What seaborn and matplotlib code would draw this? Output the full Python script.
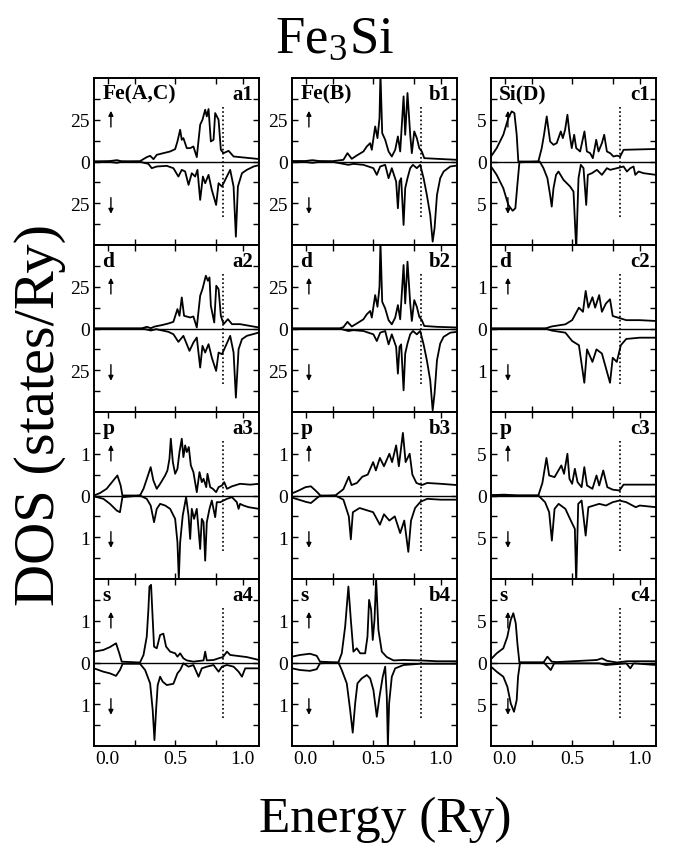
import matplotlib
matplotlib.use("Agg")
import matplotlib.pyplot as plt
import pandas as pd
import seaborn as sns

E_F = 0.855
x_ticks = [0.0, 0.2, 0.5, 0.8, 1.0]
x_labels = ["0.0", "", "0.5", "", "1.0"]

# ---------------- Fe(A,C) ----------------
a1_up = [(-0.10,0),(0.02,0.3),(0.07,0.8),(0.10,0.2),(0.15,0.1),(0.24,0.2),(0.29,2.6),(0.315,3.4),(0.34,1.4),
         (0.364,4),(0.413,5),(0.463,6),(0.50,7.4),(0.517,12),(0.537,19),(0.549,13),(0.561,14),(0.586,8),
         (0.611,8),(0.635,9),(0.66,2.6),(0.685,22),(0.702,25),(0.722,31),(0.734,27),(0.747,31.4),(0.764,12),
         (0.784,13),(0.796,29),(0.821,25),(0.838,7),(0.858,5),(0.895,6.4),(0.932,3),(1.006,2.4),(1.13,1.4)]
a1_dn = [(-0.10,0),(0.02,-0.3),(0.07,-0.8),(0.10,-0.2),(0.15,-0.1),(0.24,-0.2),(0.302,-1.4),(0.327,-4),
         (0.364,-3),(0.438,-2.6),(0.487,-4),(0.524,-9),(0.549,-5),(0.574,-6),(0.599,-14),(0.623,-7),(0.648,-9),
         (0.665,-5),(0.685,-23),(0.705,-9),(0.722,-13),(0.747,-8),(0.771,-17),(0.803,-26),(0.821,-13),
         (0.846,-15),(0.87,-11),(0.907,-5),(0.932,-15),(0.949,-45),(0.964,-15),(0.994,-7),(1.03,-5),
         (1.08,-3),(1.13,-2)]
a2_up = [(-0.10,0),(0.25,0),(0.29,1.0),(0.32,0.2),(0.35,1.2),(0.40,2),(0.45,3),(0.487,4),(0.517,11.6),
         (0.532,7.6),(0.549,18.6),(0.566,7.6),(0.611,6.6),(0.635,7.2),(0.66,0.6),(0.685,19.6),(0.702,23.6),
         (0.727,31.6),(0.742,28.6),(0.754,30.6),(0.764,13.6),(0.789,3.6),(0.804,25.6),(0.821,23.6),
         (0.838,7.6),(0.858,2.6),(0.89,5.6),(0.92,2.6),(0.98,2.6),(1.12,0.6)]
a2_dn = [(-0.10,0),(0.25,0),(0.29,-0.6),(0.32,-1.2),(0.36,-0.4),(0.45,-2),(0.487,-3.4),(0.524,-8),
         (0.561,-4.4),(0.606,-13.4),(0.635,-8.4),(0.66,-5.4),(0.685,-23.4),(0.702,-10.4),(0.722,-14.4),
         (0.747,-9.4),(0.771,-17.4),(0.803,-25.4),(0.821,-14.4),(0.846,-15.4),(0.863,-12.4),(0.907,-4.4),
         (0.932,-14.4),(0.949,-41.4),(0.969,-12.4),(0.994,-6.4),(1.03,-4.4),(1.12,-2.4)]
a3_up = [(-0.10,0),(-0.055,0.06),(-0.007,0.16),(0.043,0.36),(0.073,0.48),(0.097,0.24),(0.11,0),(0.24,0),
         (0.266,0.16),(0.295,0.44),(0.319,0.68),(0.339,0.36),(0.364,0.16),(0.389,0.28),(0.426,0.48),
         (0.443,0.6),(0.458,0.88),(0.468,1.36),(0.483,0.8),(0.50,0.52),(0.517,0.64),(0.532,1.04),
         (0.549,1.36),(0.561,0.92),(0.574,1.2),(0.586,1.04),(0.601,1.16),(0.616,0.72),(0.635,0.56),
         (0.66,0.08),(0.68,0.56),(0.697,0.32),(0.71,0.4),(0.73,0.2),(0.739,0.52),(0.759,0.2),(0.779,0.16),
         (0.803,0.08),(0.821,0.2),(0.846,0.24),(0.863,0.32),(0.883,0.16),(0.92,0.22),(0.98,0.28),
         (1.055,0.26),(1.12,0.28)]
a3_dn = [(-0.10,-0.02),(-0.03,-0.08),(0.018,-0.2),(0.068,-0.36),(0.092,-0.4),(0.11,-0.04),(0.24,0),
         (0.29,-0.08),(0.319,-0.24),(0.344,-0.64),(0.364,-0.32),(0.389,-0.2),(0.426,-0.24),(0.463,-0.32),
         (0.50,-0.56),(0.517,-1.12),(0.527,-2.0),(0.537,-1.12),(0.556,-0.48),(0.581,-0.04),(0.599,-0.48),
         (0.611,-1.04),(0.623,-0.32),(0.64,-0.56),(0.66,-0.32),(0.685,-1.28),(0.697,-0.56),(0.71,-0.64),
         (0.722,-1.56),(0.734,-0.64),(0.754,-0.32),(0.771,-0.12),(0.796,-0.52),(0.808,-0.16),(0.833,-0.16),
         (0.858,-0.12),(0.883,-0.08),(0.92,-0.04),(0.956,-0.16),(0.969,-0.32),(0.98,-0.2),(1.006,-0.24),
         (1.043,-0.28),(1.12,-0.32)]
a4_up = [(-0.10,0.26),(-0.031,0.3),(0.018,0.37),(0.063,0.46),(0.087,0.22),(0.105,0.02),(0.24,0),
         (0.266,0.18),(0.29,0.62),(0.302,1.26),(0.31,1.82),(0.322,1.86),(0.332,1.18),(0.344,0.38),
         (0.364,0.34),(0.389,0.66),(0.413,0.69),(0.433,0.38),(0.463,0.26),(0.50,0.22),(0.517,0.14),
         (0.537,0.22),(0.561,0.1),(0.586,0.05),(0.635,0.02),(0.71,0.05),(0.722,0.26),(0.734,0.05),
         (0.784,0.06),(0.821,0.1),(0.853,0.13),(0.883,0.26),(0.907,0.18),(0.956,0.16),(1.03,0.13),(1.12,0.06)]
a4_dn = [(-0.10,-0.14),(-0.031,-0.22),(0.018,-0.26),(0.063,-0.32),(0.092,-0.18),(0.112,-0.03),(0.24,-0.03),
         (0.278,-0.18),(0.315,-0.5),(0.334,-1.14),(0.347,-1.86),(0.359,-1.14),(0.371,-0.54),(0.389,-0.34),
         (0.408,-0.46),(0.438,-0.54),(0.487,-0.51),(0.517,-0.26),(0.537,-0.18),(0.561,-0.02),(0.599,-0.1),
         (0.635,-0.06),(0.673,-0.34),(0.697,-0.14),(0.734,-0.1),(0.784,-0.06),(0.821,-0.22),(0.846,-0.1),
         (0.883,-0.06),(0.932,-0.1),(0.969,-0.22),(0.994,-0.34),(1.018,-0.14),(1.12,-0.14)]

# ---------------- Fe(B) ----------------
b1_up = [(-0.10,0.3),(0.0,0.3),(0.05,0.8),(0.10,0.3),(0.2,0.2),(0.28,1),(0.31,5),(0.342,1.6),(0.379,3.6),
         (0.428,6),(0.453,9),(0.478,11),(0.49,7),(0.515,21),(0.532,14),(0.547,26),(0.554,53),(0.567,17),
         (0.589,13),(0.614,6),(0.638,3),(0.663,7),(0.683,15),(0.70,6),(0.725,39),(0.737,16),(0.754,41),
         (0.774,16),(0.786,5),(0.804,18),(0.823,14),(0.841,8),(0.86,6),(0.878,2),(0.972,1.6),(1.12,1)]
b1_dn = [(-0.10,-0.3),(0.0,-0.3),(0.05,-0.8),(0.10,-0.3),(0.2,-0.2),(0.317,-2),(0.354,-1.4),(0.428,-2),
         (0.465,-3),(0.502,-4),(0.527,-8),(0.552,-3),(0.589,-2),(0.614,-10),(0.638,-4),(0.67,-12),(0.683,-28),
         (0.695,-12),(0.707,-10),(0.725,-38),(0.737,-16),(0.754,-10),(0.774,-4),(0.794,-2),(0.823,-4),
         (0.848,-2),(0.873,-10),(0.897,-20),(0.922,-32),(0.94,-48),(0.954,-40),(0.972,-20),(0.996,-10),
         (1.021,-6),(1.07,-3),(1.12,-2.4)]
b2_up = [(-0.10,0),(0.25,0),(0.28,0.8),(0.31,4),(0.342,1.2),(0.379,3),(0.428,5.5),(0.453,8.5),(0.478,10.5),
         (0.49,6.5),(0.515,20),(0.532,13),(0.547,25),(0.554,52),(0.567,16),(0.589,12),(0.614,5),(0.638,2.5),
         (0.663,6.5),(0.683,14),(0.70,5.5),(0.725,38),(0.737,15),(0.754,40),(0.774,15),(0.786,4.5),
         (0.804,17),(0.823,13),(0.841,7),(0.86,5),(0.878,1.5),(0.972,1.0),(1.12,0.6)]
b2_dn = [(-0.10,0),(0.25,0),(0.317,-1.5),(0.354,-1.0),(0.428,-1.5),(0.465,-2.5),(0.502,-3.5),(0.527,-7.5),
         (0.552,-2.5),(0.589,-1.5),(0.614,-9.5),(0.638,-3.5),(0.67,-11),(0.683,-27),(0.695,-11),(0.707,-9.5),
         (0.725,-37),(0.737,-15),(0.754,-9),(0.774,-3.5),(0.794,-1.5),(0.823,-3.5),(0.848,-1.5),(0.873,-9.5),
         (0.897,-19),(0.922,-31),(0.94,-49),(0.954,-39),(0.972,-19),(0.996,-9),(1.021,-5),(1.07,-2.5),
         (1.12,-2)]
b3_up = [(-0.10,0.05),(-0.05,0.12),(0.0,0.2),(0.04,0.22),(0.08,0.1),(0.11,0),(0.22,0),(0.28,0.15),
         (0.32,0.45),(0.34,0.25),(0.38,0.3),(0.42,0.45),(0.46,0.5),(0.50,0.8),(0.52,0.6),(0.55,0.9),
         (0.58,0.7),(0.62,1.0),(0.64,0.8),(0.67,1.2),(0.69,0.7),(0.72,1.5),(0.74,0.8),(0.77,1.0),(0.79,0.5),
         (0.82,0.3),(0.86,0.25),(0.90,0.3),(1.0,0.28),(1.12,0.25)]
b3_dn = [(-0.10,-0.05),(0.0,-0.15),(0.04,-0.18),(0.10,-0.02),(0.22,0),(0.28,-0.1),(0.32,-0.5),(0.335,-1.05),
         (0.35,-0.4),(0.40,-0.3),(0.45,-0.35),(0.50,-0.4),(0.55,-0.7),(0.58,-0.45),(0.62,-0.6),(0.66,-0.5),
         (0.70,-0.9),(0.73,-0.6),(0.76,-1.35),(0.78,-0.6),(0.81,-0.3),(0.85,-0.15),(0.90,-0.08),(1.0,-0.1),
         (1.12,-0.1)]
b4_up = [(-0.10,0.14),(-0.041,0.18),(0.033,0.21),(0.083,0.16),(0.107,0.02),(0.243,0),(0.268,0.22),
         (0.293,0.86),(0.317,1.82),(0.335,1.02),(0.354,0.26),(0.379,0.34),(0.404,0.22),(0.441,0.22),
         (0.458,0.62),(0.47,1.5),(0.485,1.26),(0.497,0.54),(0.51,1.02),(0.522,2.0),(0.539,0.78),
         (0.564,0.26),(0.601,0.13),(0.651,0.05),(0.725,0.06),(0.848,0.05),(0.972,0.03),(1.12,0.03)]
b4_dn = [(-0.10,-0.14),(-0.041,-0.18),(0.033,-0.2),(0.083,-0.16),(0.107,-0.02),(0.243,0),(0.268,-0.18),
         (0.305,-0.5),(0.33,-1.14),(0.349,-1.68),(0.367,-0.98),(0.384,-0.5),(0.416,-0.38),(0.453,-0.3),
         (0.478,-0.38),(0.502,-0.66),(0.527,-1.3),(0.547,-0.82),(0.571,-0.34),(0.589,-0.1),(0.601,-0.82),
         (0.609,-2.0),(0.618,-0.98),(0.638,-0.34),(0.663,-0.14),(0.725,-0.06),(0.848,-0.03),(1.12,-0.03)]

# ---------------- Si(D) ----------------
c1_up = [(-0.10,0.6),(-0.058,1.6),(-0.009,3.2),(0.028,5.2),(0.053,6.0),(0.073,5.8),(0.09,3.2),(0.102,0),
         (0.25,0),(0.275,1.6),(0.292,3.2),(0.312,5.4),(0.337,2.4),(0.362,2.0),(0.386,2.2),(0.416,3.6),
         (0.431,2.8),(0.448,3.8),(0.465,5.6),(0.48,3.4),(0.497,1.6),(0.515,3.2),(0.53,1.6),(0.559,1.2),
         (0.591,3.6),(0.609,1.2),(0.633,1.0),(0.653,0.4),(0.678,2.6),(0.695,1.2),(0.72,2.2),(0.737,3.2),
         (0.757,1.2),(0.781,1.0),(0.806,0.6),(0.831,0.7),(0.855,0.6),(0.88,1.4),(1.12,1.5)]
c1_dn = [(-0.10,-0.6),(-0.058,-1.6),(-0.009,-3.2),(0.028,-5.2),(0.06,-5.9),(0.08,-5.6),(0.095,-2.8),
         (0.11,-0.1),(0.26,0),(0.288,-0.8),(0.317,-2.0),(0.337,-4.0),(0.349,-5.4),(0.362,-3.2),(0.381,-1.6),
         (0.399,-1.2),(0.436,-2.2),(0.485,-3.0),(0.51,-3.6),(0.53,-10.5),(0.547,-2.0),(0.564,-0.4),
         (0.584,-0.8),(0.604,-5.2),(0.616,-1.6),(0.646,-1.4),(0.683,-1.0),(0.72,-1.6),(0.757,-0.8),
         (0.781,-1.0),(0.831,-0.8),(0.88,-0.6),(0.905,-1.2),(0.93,-0.8),(0.954,-0.6),(0.967,-1.6),
         (0.991,-1.2),(1.028,-1.4),(1.12,-1.6)]
c2_up = [(-0.10,0),(0.30,0),(0.35,0.05),(0.45,0.1),(0.50,0.2),(0.55,0.5),(0.58,0.4),(0.60,0.9),(0.62,0.5),
         (0.65,0.75),(0.67,0.5),(0.70,0.8),(0.72,0.4),(0.75,0.6),(0.78,0.7),(0.80,0.3),(0.85,0.25),
         (0.90,0.2),(1.0,0.2),(1.12,0.18)]
c2_dn = [(-0.10,0),(0.30,0),(0.35,-0.05),(0.45,-0.1),(0.50,-0.3),(0.55,-0.4),(0.59,-1.3),(0.61,-0.5),
         (0.65,-0.8),(0.68,-0.5),(0.72,-0.6),(0.78,-1.3),(0.80,-0.7),(0.83,-0.8),(0.86,-0.4),(0.90,-0.25),
         (1.0,-0.22),(1.12,-0.22)]
c3_up = [(-0.10,0.05),(0.0,0.1),(0.10,0),(0.25,0),(0.28,1.5),(0.31,4.5),(0.33,2.4),(0.37,2.2),(0.42,3.6),
         (0.44,2.6),(0.465,5.0),(0.48,2.0),(0.50,1.4),(0.52,3.2),(0.54,1.6),(0.57,1.0),(0.59,3.4),(0.61,1.2),
         (0.65,0.8),(0.68,2.4),(0.70,1.2),(0.73,3.0),(0.76,1.0),(0.80,0.7),(0.85,0.6),(0.88,1.3),(1.12,1.3)]
c3_dn = [(-0.10,0),(0.25,0),(0.30,-0.8),(0.33,-2.0),(0.35,-5.4),(0.37,-1.6),(0.40,-1.0),(0.45,-1.6),
         (0.49,-3.0),(0.52,-4),(0.53,-10.5),(0.545,-1.0),(0.57,-0.6),(0.60,-4.8),(0.62,-1.4),(0.66,-1.2),
         (0.70,-1.0),(0.75,-1.2),(0.80,-0.8),(0.85,-0.6),(0.90,-0.8),(0.97,-1.4),(1.0,-1.2),(1.12,-1.4)]
c4_up = [(-0.10,0.4),(-0.058,1.1),(-0.009,1.7),(0.021,3.1),(0.046,5.1),(0.065,5.9),(0.083,4.7),(0.095,2.3),
         (0.11,0),(0.288,0),(0.317,0.7),(0.349,0.1),(0.386,0.05),(0.683,0.3),(0.72,0.5),(0.757,0.2),
         (0.831,0.0),(0.905,0.15),(1.12,0.15)]
c4_dn = [(-0.10,-0.5),(-0.058,-1.1),(-0.009,-1.7),(0.021,-2.9),(0.046,-4.9),(0.07,-5.9),(0.09,-4.5),
         (0.10,-1.7),(0.115,0),(0.29,0),(0.342,-0.9),(0.367,-0.1),(0.70,-0.1),(0.75,-0.3),(0.90,-0.1),
         (0.93,-0.7),(0.954,-0.1),(1.12,-0.3)]

# (tag, left label, up, down, ylim, labelled tick)
panels = [
    [("a1", "Fe(A,C)", a1_up, a1_dn, 50, 25), ("b1", "Fe(B)", b1_up, b1_dn, 50, 25), ("c1", "Si(D)", c1_up, c1_dn, 10, 5)],
    [("a2", "d", a2_up, a2_dn, 50, 25), ("b2", "d", b2_up, b2_dn, 50, 25), ("c2", "d", c2_up, c2_dn, 2, 1)],
    [("a3", "p", a3_up, a3_dn, 2, 1), ("b3", "p", b3_up, b3_dn, 2, 1), ("c3", "p", c3_up, c3_dn, 10, 5)],
    [("a4", "s", a4_up, a4_dn, 2, 1), ("b4", "s", b4_up, b4_dn, 2, 1), ("c4", "s", c4_up, c4_dn, 10, 5)],
]

sns.set_theme(style="ticks")
plt.rcParams["font.family"] = ["Liberation Serif", "DejaVu Serif"]
plt.rcParams["mathtext.fontset"] = "stix"
for key in ("text.color", "axes.labelcolor", "xtick.color", "ytick.color", "axes.edgecolor"):
    plt.rcParams[key] = "black"

FW, FH = 673, 854
fig = plt.figure(figsize=(FW / 100, FH / 100), dpi=100)
lefts = [94, 292, 491]
tops = [79, 246, 413, 580]
W, H = 165, 167

for i, row in enumerate(panels):
    for j, (tag, lab, up, dn, lim, t) in enumerate(row):
        ax = fig.add_axes([lefts[j] / FW, 1 - (tops[i] + H) / FH, W / FW, H / FH])
        for ser in (up, dn):
            df = pd.DataFrame(ser, columns=["E", "DOS"])
            sns.lineplot(data=df, x="E", y="DOS", ax=ax, color="black", lw=1.3,
                         estimator=None, sort=False, legend=False)
        ax.axhline(0, color="black", lw=1.0)
        ax.axvline(E_F, ymin=0.17, ymax=0.83, color="black", lw=1.2, ls=(0, (1, 1.5)))
        ax.set_xlim(-0.1, 1.12)
        ax.set_ylim(-lim, lim)
        ax.set_xlabel("")
        ax.set_ylabel("")
        ax.set_yticks([-t, 0, t])
        ax.set_yticklabels([str(t), "0", str(t)])
        ax.set_yticks([-1.5 * t, -0.5 * t, 0.5 * t, 1.5 * t], minor=True)
        ax.set_xticks(x_ticks)
        ax.set_xticklabels(x_labels if i == 3 else [""] * 5)
        for k in (0, 4):
            tk = ax.xaxis.get_major_ticks()[k]
            tk.tick1line.set_visible(False)
            tk.tick2line.set_visible(False)
        ax.tick_params(which="both", direction="in", top=True, right=True, length=4, width=1.0,
                       labelsize=14, pad=3, colors="black")
        for s in ax.spines.values():
            s.set_linewidth(1.4)
            s.set_color("black")
        ax.text(0.05, 0.905, lab, transform=ax.transAxes, fontsize=15.5, fontweight="bold",
                va="center", ha="left")
        ax.text(0.965, 0.905, tag, transform=ax.transAxes, fontsize=15, fontweight="bold",
                va="center", ha="right")
        tr = ax.get_xaxis_transform()
        ax.annotate("", xy=(0.025, 0.82), xytext=(0.025, 0.69), xycoords=tr, textcoords=tr,
                    arrowprops=dict(arrowstyle="-|>", color="black", lw=1.0, mutation_scale=7))
        ax.annotate("", xy=(0.025, 0.17), xytext=(0.025, 0.30), xycoords=tr, textcoords=tr,
                    arrowprops=dict(arrowstyle="-|>", color="black", lw=1.0, mutation_scale=7))

fig.text(335 / FW, 1 - 40 / FH, r"Fe$_\mathregular{3}$Si", fontsize=38, ha="center", va="center")
fig.text(40 / FW, 1 - 415 / FH, "DOS (states/Ry)", fontsize=42, rotation=90, ha="center", va="center")
fig.text(385 / FW, 1 - 820 / FH, "Energy (Ry)", fontsize=37, ha="center", va="center")

fig.savefig("out.png", dpi=100)
